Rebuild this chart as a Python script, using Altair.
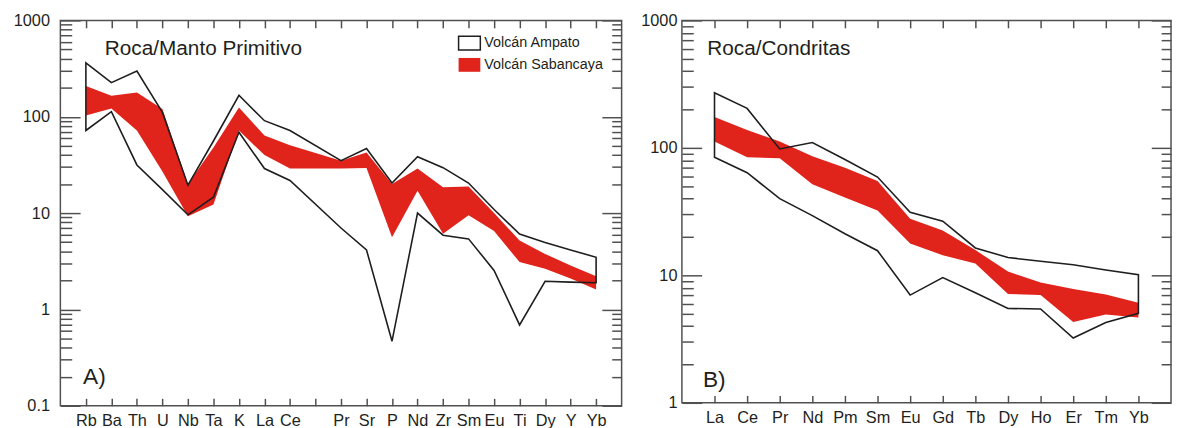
import altair as alt
import pandas as pd

# ---------------- data ----------------
SERIES = ["Volcán Ampato", "Volcán Sabancaya"]

# Panel A: Roca/Manto Primitivo
A_AXIS = ["Rb", "Ba", "Th", "U", "Nb", "Ta", "K", "La", "Ce", " ", "Pr", "Sr", "P",
          "Nd", "Zr", "Sm", "Eu", "Ti", "Dy", "Y", "Yb"]
A_ELEMENTS = ["Rb", "Ba", "Th", "U", "Nb", "Ta", "K", "La", "Ce", "Pr", "Sr", "P",
              "Nd", "Zr", "Sm", "Eu", "Ti", "Dy", "Y", "Yb"]
A_AMPATO_HIGH = [362, 226, 298, 111, 19.5, 56, 167, 91, 72, 35, 46.7, 20.5,
                 38.5, 29.6, 20.5, 10.9, 6.05, 4.96, 4.14, 3.48]
A_AMPATO_LOW = [72, 113, 31.6, 17.5, 9.6, 14.6, 69, 29, 21.8, 7.0, 4.14, 0.468,
                10, 5.9, 5.4, 2.54, 0.69, 1.96, 1.92, 1.89]
A_SABANCAYA_HIGH = [209, 165, 178, 120, 20, 48, 125, 64, 50.7, 35, 42.5, 20,
                    29, 18.5, 18.9, 10.0, 5.2, 3.77, 2.86, 2.21]
A_SABANCAYA_LOW = [103, 122, 72, 27, 9.3, 12.3, 72, 40, 29, 29, 29.4, 5.6,
                   17.1, 6.1, 9.5, 6.5, 3.1, 2.65, 2.09, 1.61]
A_Y_MAJOR = [0.1, 1, 10, 100, 1000]
A_Y_MINOR = [0.2, 0.3, 0.4, 0.5, 0.6, 0.7, 0.8, 0.9,
             2, 3, 4, 5, 6, 7, 8, 9,
             20, 30, 40, 50, 60, 70, 80, 90,
             200, 300, 400, 500, 600, 700, 800, 900]

# Panel B: Roca/Condritas
B_AXIS = ["La", "Ce", "Pr", "Nd", "Pm", "Sm", "Eu", "Gd", "Tb", "Dy", "Ho", "Er", "Tm", "Yb"]
B_ELEMENTS = ["La", "Ce", "Pr", "Nd", "Pm", "Sm", "Eu", "Gd", "Tb", "Dy", "Ho", "Er", "Tm", "Yb"]
B_AMPATO_HIGH = [271, 204, 98, 110, 81, 59, 31.2, 26.6, 16.4, 13.8, 12.9, 12.1, 11.0, 10.1]
B_AMPATO_LOW = [84.4, 63.8, 40, 29.4, 21.2, 15.6, 7.0, 9.6, 7.3, 5.5, 5.45, 3.22, 4.26, 5.03]
B_SABANCAYA_HIGH = [175, 138, 112, 86, 69.7, 55, 27.8, 22.5, 15.8, 10.7, 8.8, 7.8, 7.06, 6.09]
B_SABANCAYA_LOW = [112, 84.4, 83, 51.9, 40.8, 32.2, 17.8, 14.4, 12.4, 7.15, 7.0, 4.31, 4.94, 4.66]
B_Y_MAJOR = [1, 10, 100, 1000]
B_Y_MINOR = [2, 3, 4, 5, 6, 7, 8, 9,
             20, 30, 40, 50, 60, 70, 80, 90,
             200, 300, 400, 500, 600, 700, 800, 900]

# ---------------- style ----------------
FONT = "Liberation Sans"
RED = "#e0231b"
BLACK = "#1e1e1e"
TXT = "#231f20"
AXC = "#505050"
RECT = "M-1.375,-0.875H1.375V0.875H-1.375Z"


def panel(axis_names, elements, amp_hi, amp_lo, sab_hi, sab_lo, y_dom, major, minor,
          w, h, pad, title, title_xy, letter, letter_xy, legend_xy=None):
    amp = pd.DataFrame({"el": elements, "lo": amp_lo, "hi": amp_hi, "series": SERIES[0]})
    sab = pd.DataFrame({"el": elements, "lo": sab_lo, "hi": sab_hi, "series": SERIES[1]})

    xscale = alt.Scale(type="point", domain=axis_names, padding=pad)
    yscale = alt.Scale(type="log", domain=y_dom, nice=False)

    def X(axis):
        return alt.X("el:N", sort=axis_names, scale=xscale, axis=axis, title=None)

    def Y(field, axis):
        return alt.Y(field + ":Q", scale=yscale, axis=axis, title=None)

    if legend_xy is not None:
        leg = alt.Legend(orient="none", legendX=legend_xy[0], legendY=legend_xy[1],
                         title=None, symbolType=RECT, symbolSize=256,
                         symbolStrokeWidth=1.5, labelFontSize=14.5, labelFont=FONT,
                         labelColor=TXT, labelOffset=6, rowPadding=2, padding=0)
    else:
        leg = None

    fill = alt.Fill("series:N", scale=alt.Scale(domain=SERIES, range=["transparent", RED]),
                    legend=leg)
    stroke = alt.Stroke("series:N", scale=alt.Scale(domain=SERIES, range=[BLACK, "transparent"]),
                        legend=leg)

    ax_bottom = alt.Axis(orient="bottom", offset=-7.5, tickSize=7.5, labelPadding=7,
                         labelAngle=0)
    ax_top = alt.Axis(orient="top", offset=-7.5, tickSize=7.5, labels=False)
    ax_left_major = alt.Axis(orient="left", values=major, offset=-20, tickSize=20,
                             labelPadding=11 if legend_xy is not None else 5, format="~g")
    ax_left_minor = alt.Axis(orient="left", values=minor, offset=-11.5, tickSize=11.5,
                             labels=False)
    ax_right_major = alt.Axis(orient="right", values=major, offset=-20, tickSize=20,
                              labels=False)
    ax_right_minor = alt.Axis(orient="right", values=minor, offset=-10, tickSize=10,
                              labels=False)

    red = alt.Chart(sab).mark_area(strokeWidth=1.6).encode(
        x=X(ax_bottom), y=Y("lo", ax_left_major), y2="hi:Q", fill=fill, stroke=stroke)
    outline = alt.Chart(amp).mark_area(strokeWidth=1.6, strokeJoin="miter").encode(
        x=X(ax_top), y=Y("lo", ax_left_minor), y2="hi:Q", fill=fill, stroke=stroke)
    inv1 = alt.Chart(amp).mark_point(opacity=0).encode(x=X(None), y=Y("hi", ax_right_major))
    inv2 = alt.Chart(amp).mark_point(opacity=0).encode(x=X(None), y=Y("hi", ax_right_minor))

    t1 = alt.Chart(pd.DataFrame({"t": [title]})).mark_text(
        align="left", baseline="alphabetic", fontSize=21, font=FONT, color=TXT
    ).encode(text="t:N", x=alt.value(title_xy[0]), y=alt.value(title_xy[1]))
    t2 = alt.Chart(pd.DataFrame({"t": [letter]})).mark_text(
        align="left", baseline="alphabetic", fontSize=23, font=FONT, color=TXT
    ).encode(text="t:N", x=alt.value(letter_xy[0]), y=alt.value(letter_xy[1]))

    return alt.layer(red, outline, inv1, inv2, t1, t2).resolve_axis(
        x="independent", y="independent").properties(width=w, height=h)


left = panel(A_AXIS, A_ELEMENTS, A_AMPATO_HIGH, A_AMPATO_LOW, A_SABANCAYA_HIGH,
             A_SABANCAYA_LOW, [0.1, 1000], A_Y_MAJOR, A_Y_MINOR, 568, 390, 1.45,
             "Roca/Manto Primitivo", (45, 35.3), "A)", (23, 368), legend_xy=(405, 14))
right = panel(B_AXIS, B_ELEMENTS, B_AMPATO_HIGH, B_AMPATO_LOW, B_SABANCAYA_HIGH,
              B_SABANCAYA_LOW, [1, 1000], B_Y_MAJOR, B_Y_MINOR, 495, 387, 1.0,
              "Roca/Condritas", (25.7, 35.2), "B)", (21.3, 370.8))

chart = alt.hconcat(left, right, spacing=16).properties(
    padding={"left": 4, "top": 1, "right": 0, "bottom": 0}
).configure(font=FONT).configure_view(
    stroke=AXC, strokeWidth=1.5
).configure_axis(
    labelFont=FONT, labelFontSize=16.5, labelColor=TXT, tickColor=AXC, tickWidth=1.5,
    domain=False, grid=False, labelOverlap=False
)

chart.save("out.html", embed_options={"renderer": "svg", "actions": False})
